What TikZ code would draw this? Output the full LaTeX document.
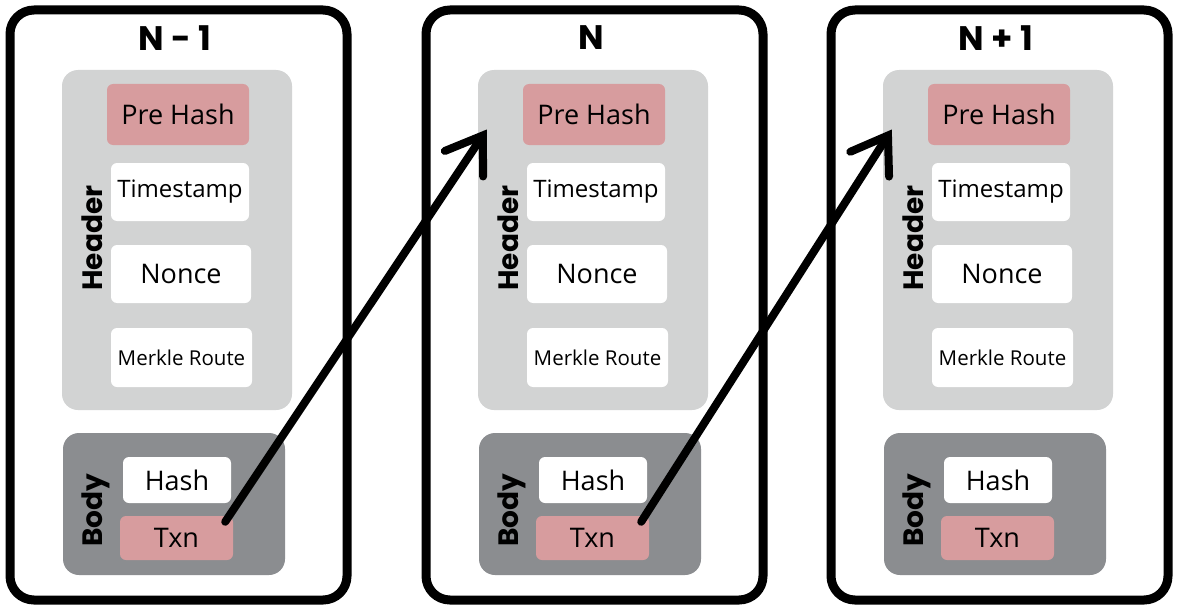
\documentclass[tikz,border=0pt]{standalone}
\usepackage{fontspec}
\setmainfont{Open Sans}
\newfontfamily\heavyfont{Poppins}
\usetikzlibrary{arrows.meta,calc}
\definecolor{pinkbox}{HTML}{D79C9E}
\definecolor{lightgrey}{HTML}{D2D3D3}
\definecolor{darkgrey}{HTML}{8B8D90}
\tikzset{
  blockframe/.style={draw=black, line width=9pt, rounded corners=24pt, fill=white},
  headerbox/.style={fill=lightgrey, rounded corners=16pt},
  bodybox/.style={fill=darkgrey, rounded corners=16pt},
  field/.style={rounded corners=6pt, inner sep=0pt, font=\fontsize{27}{30}\selectfont},
  pinkfield/.style={field, fill=pinkbox},
  whitefield/.style={field, fill=white},
  titletext/.style={font=\heavyfont\bfseries\fontsize{34}{36}\selectfont},
  sidetext/.style={font=\heavyfont\bfseries\fontsize{28}{30}\selectfont, rotate=90},
  link/.style={line width=8pt, line cap=round, -{Straight Barb[length=34pt,width=46pt,line cap=round]}}
}
\begin{document}
\begin{tikzpicture}[x=1pt,y=-1pt]
\useasboundingbox (0,0) rectangle (1181,610);
\foreach \i/\dx/\t in {1/0/{N - 1}, 2/416/{N}, 3/821/{N + 1}}{
  \begin{scope}[xshift=\dx pt]
    \draw[blockframe] (10,10) rectangle (347,600);
    \node[titletext] (title\i) at (175,38) {\t};
    \fill[headerbox] (62,70) rectangle (292,410);
    \fill[bodybox] (63,433) rectangle (285,575);
    \node[sidetext] (header\i) at (92,238) {Header};
    \node[sidetext] (body\i) at (96,510) {Body};
    \node[pinkfield, minimum width=142pt, minimum height=61pt] (pre\i) at (178,114.5) {Pre Hash};
    \node[whitefield, minimum width=138pt, minimum height=58pt, font=\fontsize{24}{26}\selectfont] (time\i) at (180,192) {Timestamp};
    \node[whitefield, minimum width=140pt, minimum height=58pt] (nonce\i) at (181,274) {Nonce};
    \node[whitefield, minimum width=141pt, minimum height=59pt, font=\fontsize{20.5}{22}\selectfont] (merkle\i) at (181.5,357.5) {Merkle Route};
    \node[whitefield, minimum width=108pt, minimum height=46pt] (hash\i) at (177,480) {Hash};
    \node[pinkfield, minimum width=113pt, minimum height=44pt] (txn\i) at (176.5,538) {Txn};
  \end{scope}
}
\draw[link] ($(txn1.north east)+(-8,6)$) -- ($(pre2.west)+(-36,15)$);
\draw[link] ($(txn2.north east)+(-8,6)$) -- ($(pre3.west)+(-36,15)$);
\end{tikzpicture}
\end{document}
